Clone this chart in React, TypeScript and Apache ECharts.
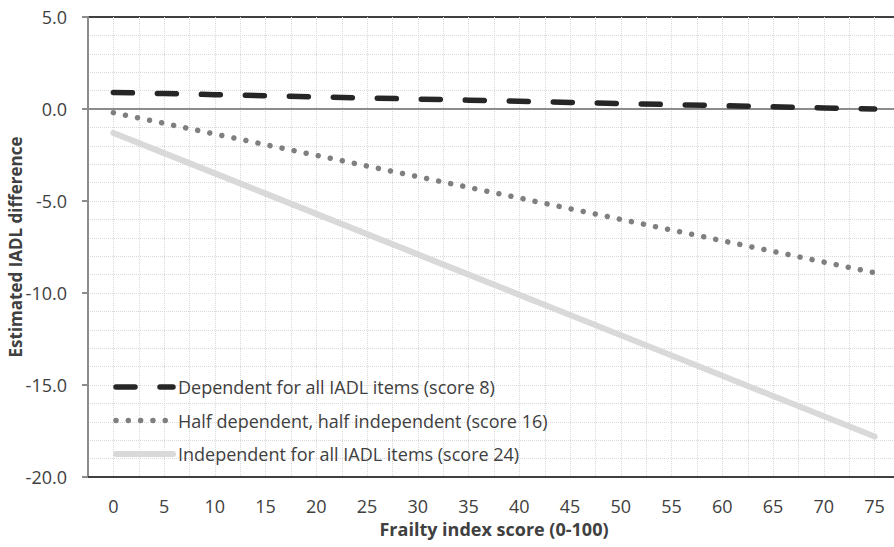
import React, { useEffect, useRef } from "react";
import * as echarts from "echarts";

// Frailty index scores on the x axis
const frailty = [0, 5, 10, 15, 20, 25, 30, 35, 40, 45, 50, 55, 60, 65, 70, 75];

// Estimated IADL difference per baseline IADL score
const dependentAll = [0.9, 0.84, 0.78, 0.72, 0.66, 0.6, 0.54, 0.48, 0.42, 0.36, 0.3, 0.24, 0.18, 0.12, 0.06, 0.0];
const halfDependent = [-0.2, -0.78, -1.36, -1.94, -2.52, -3.1, -3.68, -4.26, -4.84, -5.42, -6.0, -6.58, -7.16, -7.74, -8.32, -8.9];
const independentAll = [-1.3, -2.4, -3.5, -4.6, -5.7, -6.8, -7.9, -9.0, -10.1, -11.2, -12.3, -13.4, -14.5, -15.6, -16.7, -17.8];

const seriesNames = [
  "Dependent for all IADL items (score 8)",
  "Half dependent, half independent (score 16)",
  "Independent for all IADL items (score 24)",
];

const FONT = "'Open Sans', sans-serif";

const pairs = (ys: number[]) => frailty.map((x, i) => [x, ys[i]]);

export default function App() {
  const ref = useRef<HTMLDivElement>(null);

  useEffect(() => {
    if (!ref.current) return;
    const chart = echarts.init(ref.current, undefined, { renderer: "svg" });
    const gridLine = { show: true, lineStyle: { color: "#d9d9d9", type: [1, 1] as any, width: 1 } };
    chart.setOption({
      animation: false,
      backgroundColor: "#ffffff",
      textStyle: { fontFamily: FONT },
      grid: {
        left: 88,
        right: 0,
        top: 17,
        bottom: 70,
        outerBoundsMode: "none",
        containLabel: false,
        show: true,
        borderColor: "#404040",
        borderWidth: 2,
        backgroundColor: "transparent",
      },
      legend: {
        orient: "vertical",
        left: 108,
        top: 373,
        itemWidth: 57,
        itemHeight: 14,
        itemGap: 15.5,
        selectedMode: false,
        data: seriesNames,
        itemStyle: { opacity: 0 },
        lineStyle: { width: "inherit", type: "inherit", cap: "round" } as any,
        textStyle: { fontFamily: FONT, fontSize: 18, color: "#404040" },
      },
      xAxis: [
        {
          type: "value",
          min: -2.5,
          max: 77.5,
          interval: 2.5,
          name: "Frailty index score (0-100)",
          nameLocation: "middle",
          nameGap: 43,
          nameMoveOverlap: false,
          nameTextStyle: { fontFamily: FONT, fontSize: 18, fontWeight: "bold", color: "#404040" },
          axisLine: { show: true, onZero: false, lineStyle: { color: "#404040", width: 2 } },
          axisTick: { show: false },
          axisLabel: {
            margin: 20,
            fontFamily: FONT,
            fontSize: 18,
            color: "#404040",
            formatter: (v: number) => (v >= 0 && v <= 75 && v % 5 === 0 ? String(v) : ""),
          },
          splitLine: { ...gridLine, showMinLine: false, showMaxLine: false },
        },
        {
          type: "value",
          min: -2.5,
          max: 77.5,
          position: "bottom",
          axisLine: { show: true, onZero: true, lineStyle: { color: "#8c8c8c", width: 2 } },
          axisTick: { show: false },
          axisLabel: { show: false },
          splitLine: { show: false },
        },
      ],
      yAxis: {
        type: "value",
        min: -20,
        max: 5,
        interval: 5,
        name: "Estimated IADL difference",
        nameLocation: "middle",
        nameGap: 64,
        nameMoveOverlap: false,
        nameTextStyle: { fontFamily: FONT, fontSize: 17, fontWeight: "bold", color: "#404040" },
        axisLine: { show: true, onZero: false, lineStyle: { color: "#8c8c8c", width: 2 } },
        axisTick: { show: true, length: 6, lineStyle: { color: "#8c8c8c", width: 2 } },
        axisLabel: {
          margin: 21,
          fontFamily: FONT,
          fontSize: 18,
          color: "#404040",
          formatter: (v: number) => v.toFixed(1),
        },
        splitLine: { ...gridLine, showMinLine: false, showMaxLine: false },
        minorTick: { show: false, splitNumber: 5 },
        minorSplitLine: gridLine,
      },
      series: [
        {
          name: seriesNames[0],
          type: "line",
          data: pairs(dependentAll),
          showSymbol: false,
          symbol: "none",
          lineStyle: { color: "#262626", width: 5.5, type: [19, 25], cap: "round" },
          itemStyle: { color: "#262626" },
          z: 4,
        },
        {
          name: seriesNames[1],
          type: "line",
          data: pairs(halfDependent),
          showSymbol: false,
          symbol: "none",
          lineStyle: { color: "#7f7f7f", width: 5.5, type: [0.01, 12.3], cap: "round" },
          itemStyle: { color: "#7f7f7f" },
          z: 3,
        },
        {
          name: seriesNames[2],
          type: "line",
          data: pairs(independentAll),
          showSymbol: false,
          symbol: "none",
          lineStyle: { color: "#d9d9d9", width: 6, type: "solid", cap: "round" },
          itemStyle: { color: "#d9d9d9" },
          z: 2,
        },
      ],
    });
    return () => chart.dispose();
  }, []);

  return (
    <div style={{ position: "absolute", left: 0, top: 0, width: 894, height: 547, overflow: "hidden", background: "#fff" }}>
      <div ref={ref} style={{ width: 900, height: 547 }} />
    </div>
  );
}
